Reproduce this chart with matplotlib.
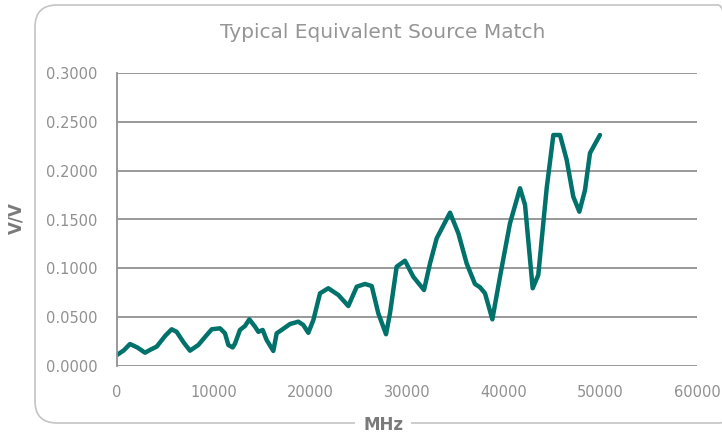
import matplotlib
matplotlib.use("Agg")
import matplotlib.pyplot as plt
from matplotlib.patches import FancyBboxPatch
from matplotlib.transforms import IdentityTransform

# data
freq_mhz = [0, 700, 1340, 2100, 2900, 3400, 4100, 5000, 5650, 6170, 6900, 7550,
            8410, 9280, 9800, 10650, 11170, 11520, 11970, 12210, 12720, 13240,
            13690, 14280, 14620, 15070, 15480, 16170, 16520, 17030, 17900, 18760,
            19270, 19790, 20310, 21000, 21860, 22900, 23930, 24800, 25650, 26350,
            27030, 27830, 28240, 28930, 29790, 30650, 31760, 32380, 33070, 34450,
            35310, 36170, 37030, 37550, 38070, 38830, 39620, 40650, 41690, 42210,
            43000, 43580, 44450, 45140, 45830, 46520, 47200, 47830, 48410, 48930,
            49960]
match_vv = [0.0113, 0.016, 0.0225, 0.019, 0.0136, 0.0164, 0.0198, 0.031, 0.0376,
            0.035, 0.024, 0.0157, 0.0215, 0.0317, 0.0376, 0.0386, 0.0335, 0.0215,
            0.019, 0.023, 0.0369, 0.041, 0.0478, 0.0402, 0.035, 0.0369, 0.0266,
            0.0154, 0.0335, 0.0369, 0.043, 0.0454, 0.042, 0.034, 0.047, 0.0744,
            0.0796, 0.0727, 0.0614, 0.0812, 0.084, 0.0819, 0.054, 0.0325, 0.054,
            0.1017, 0.1078, 0.0914, 0.0778, 0.105, 0.1307, 0.157, 0.1359, 0.105,
            0.084, 0.0806, 0.0744, 0.0478, 0.0914, 0.146, 0.182, 0.165, 0.0796,
            0.0932, 0.182, 0.2365, 0.2365, 0.211, 0.1734, 0.158, 0.180, 0.218,
            0.2365]

x_ticks = [0, 10000, 20000, 30000, 40000, 50000, 60000]
y_ticks = [0.0, 0.05, 0.10, 0.15, 0.20, 0.25, 0.30]

W, H = 722, 436
text_grey = "#909090"
grid_grey = "#919191"

fig = plt.figure(figsize=(W / 100, H / 100), dpi=100)
plt.rcParams['font.family'] = ['DejaVu Sans']

# rounded frame around the chart, in pixels
frame = FancyBboxPatch((35, H - 423), 740 - 35, 423 - 5,
                       boxstyle="round,pad=0,rounding_size=22",
                       transform=IdentityTransform(), fill=False,
                       edgecolor="#c4c4c4", linewidth=1.2)
fig.patches.append(frame)

ax = fig.add_axes([117 / W, (H - 366) / H, (697 - 117) / W, (366 - 73) / H])
ax.plot(freq_mhz, match_vv, color="#00716b", linewidth=3.2,
        solid_joinstyle="round", solid_capstyle="round")

ax.set_xlim(0, 60000)
ax.set_ylim(0, 0.3)
ax.set_xticks(x_ticks)
ax.set_yticks(y_ticks)
ax.set_xticklabels([str(t) for t in x_ticks])
ax.set_yticklabels([f"{t:.4f}" for t in y_ticks])
ax.tick_params(length=0, labelsize=10.5, labelcolor=text_grey)
ax.tick_params(axis="y", pad=14)
ax.tick_params(axis="x", pad=14)

ax.grid(axis="y", color=grid_grey, linewidth=1.3)
ax.set_axisbelow(True)
for side in ["top", "right", "bottom"]:
    ax.spines[side].set_visible(False)
ax.spines["left"].set_color(grid_grey)
ax.spines["left"].set_linewidth(1.3)

fig.text(383 / W, (H - 33) / H, "Typical Equivalent Source Match", ha="center",
         va="center", fontsize=14.5, color="#959595")
fig.text(16 / W, (H - 218) / H, "V/V", rotation=90, ha="center", va="center",
         fontsize=12, fontweight="bold", color="#7a7a7a")
fig.text(383 / W, (H - 425) / H, "MHz", ha="center", va="center", fontsize=12,
         fontweight="bold", color="#7a7a7a",
         bbox=dict(facecolor="white", edgecolor="none", pad=6))

fig.savefig("out.png", dpi=100)
